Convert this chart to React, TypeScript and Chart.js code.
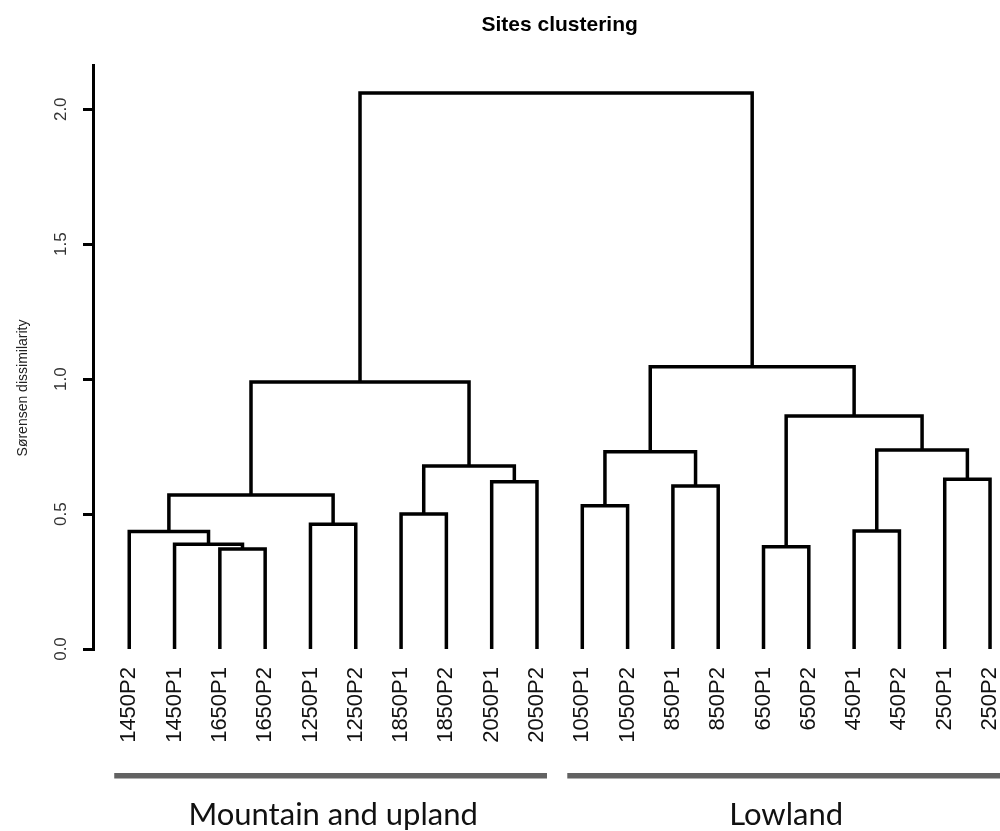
import React, { useEffect, useRef } from 'react';
import { Chart, registerables } from 'chart.js';

Chart.register(...registerables);

// ---- data ----
const leaves = [
  '1450P2', '1450P1', '1650P1', '1650P2', '1250P1', '1250P2', '1850P1', '1850P2', '2050P1', '2050P2',
  '1050P1', '1050P2', '850P1', '850P2', '650P1', '650P2', '450P1', '450P2', '250P1', '250P2',
];
// R-style merge table: negative = leaf (-(index+1)), positive = earlier merge number (1-based)
const mergeA = [-3, -15, -2, -1, -17, -5, -7, -11, 4, -13, -9, -19, 7, 8, 5, 2, 9, 14, 17];
const mergeB = [-4, -16, 1, 3, -18, -6, -8, -12, 6, -14, -10, -20, 11, 10, 12, 15, 13, 16, 18];
const mergeHeights = [
  0.371, 0.379, 0.388, 0.435, 0.437, 0.462, 0.5, 0.531, 0.571, 0.604,
  0.62, 0.629, 0.678, 0.731, 0.737, 0.863, 0.989, 1.046, 2.06,
];
const yTicks = [0, 0.5, 1, 1.5, 2];
const groupNames = ['Mountain and upland', 'Lowland'];
const groupFirst = [0, 10];
const groupLast = [9, 19];
const titleText = 'Sites clustering';
const yTitle = 'Sørensen dissimilarity';

function buildSegments() {
  const mx: number[] = [];
  const pos = (c: number) => (c < 0 ? -c - 1 : mx[c - 1]);
  const ht = (c: number) => (c < 0 ? 0 : mergeHeights[c - 1]);
  const segs: { x: number; y: number }[][] = [];
  for (let i = 0; i < mergeHeights.length; i++) {
    const a = mergeA[i];
    const b = mergeB[i];
    const xa = pos(a);
    const xb = pos(b);
    const h = mergeHeights[i];
    mx[i] = (xa + xb) / 2;
    segs.push([
      { x: xa, y: ht(a) },
      { x: xa, y: h },
      { x: xb, y: h },
      { x: xb, y: ht(b) },
    ]);
  }
  return segs;
}

const SANS = '"Liberation Sans", Arial, sans-serif';

const decorPlugin = {
  id: 'decor',
  afterDraw(chart: any) {
    const { ctx, chartArea, scales } = chart;
    const xs = scales.x;
    const ys = scales.y;
    ctx.save();
    ctx.fillStyle = '#000';

    // title
    ctx.font = `bold 21px ${SANS}`;
    ctx.textAlign = 'center';
    ctx.textBaseline = 'alphabetic';
    ctx.fillText(titleText, xs.getPixelForValue((leaves.length - 1) / 2), 31);

    // y tick labels (rotated, parallel to axis)
    ctx.font = `17px ${SANS}`;
    ctx.fillStyle = '#333';
    ctx.textBaseline = 'middle';
    yTicks.forEach((v) => {
      const y = ys.getPixelForValue(v);
      ctx.save();
      ctx.translate(chartArea.left - 32, y);
      ctx.rotate(-Math.PI / 2);
      ctx.fillText(v.toFixed(1), 0, 0);
      ctx.restore();
    });

    // y axis title
    ctx.font = `14px ${SANS}`;
    ctx.fillStyle = '#222';
    ctx.save();
    ctx.translate(23, 388);
    ctx.rotate(-Math.PI / 2);
    ctx.fillText(yTitle, 0, 0);
    ctx.restore();

    // group bars and labels
    groupNames.forEach((name, i) => {
      const x0 = xs.getPixelForValue(groupFirst[i]) - 15;
      const x1 = xs.getPixelForValue(groupLast[i]) + 10;
      ctx.fillStyle = '#626262';
      ctx.fillRect(x0, chartArea.bottom + 124, x1 - x0, 5.5);
      ctx.fillStyle = '#111';
      ctx.font = `31px Lato, "Open Sans", sans-serif`;
      ctx.textAlign = 'center';
      ctx.textBaseline = 'alphabetic';
      const cx = (xs.getPixelForValue(groupFirst[i]) + xs.getPixelForValue(groupLast[i])) / 2;
      ctx.fillText(name, cx, chartArea.bottom + 176);
    });
    ctx.restore();
  },
};

export default function App() {
  const ref = useRef<HTMLCanvasElement | null>(null);
  useEffect(() => {
    if (!ref.current) return;
    const segs = buildSegments();
    const chart = new Chart(ref.current, {
      type: 'scatter',
      data: {
        datasets: segs.map((s) => ({
          data: s,
          showLine: true,
          borderColor: '#000',
          borderWidth: 3.5,
          pointRadius: 0,
          pointHoverRadius: 0,
          tension: 0,
          fill: false,
          borderJoinStyle: 'miter' as const,
          borderCapStyle: 'butt' as const,
        })),
      },
      options: {
        animation: false,
        responsive: true,
        maintainAspectRatio: false,
        events: [],
        layout: { padding: { top: 65, right: 0, left: 0, bottom: 0 } },
        plugins: {
          legend: { display: false },
          title: { display: false },
          tooltip: { enabled: false },
        },
        scales: {
          x: {
            type: 'linear',
            min: -0.8,
            max: 19.22,
            afterBuildTicks: (scale: any) => {
              scale.ticks = leaves.map((_, i) => ({ value: i }));
            },
            afterFit: (scale: any) => {
              scale.height = 182;
              scale.paddingLeft = 0;
              scale.paddingRight = 0;
            },
            ticks: {
              autoSkip: false,
              maxRotation: 90,
              minRotation: 90,
              padding: 18,
              color: '#111',
              font: { family: SANS, size: 22 },
              callback: (v: any) => leaves[Math.round(Number(v))] ?? '',
            },
            grid: { display: false, drawTicks: false, tickLength: 0 },
            border: { display: false },
          },
          y: {
            type: 'linear',
            min: 0,
            max: 2.164,
            afterBuildTicks: (scale: any) => {
              scale.ticks = yTicks.map((v) => ({ value: v }));
            },
            afterFit: (scale: any) => {
              scale.width = 93;
              scale.paddingTop = 0;
              scale.paddingBottom = 0;
            },
            ticks: { display: false },
            grid: {
              display: true,
              drawOnChartArea: false,
              drawTicks: true,
              tickLength: 10,
              color: '#000',
              lineWidth: 3,
            },
            border: { display: true, color: '#000', width: 3 },
          },
        },
      },
      plugins: [decorPlugin],
    });
    return () => chart.destroy();
  }, []);

  return (
    <div style={{ position: 'absolute', left: 0, top: 0, width: 1000, height: 831, background: '#fff' }}>
      <canvas ref={ref} />
    </div>
  );
}
